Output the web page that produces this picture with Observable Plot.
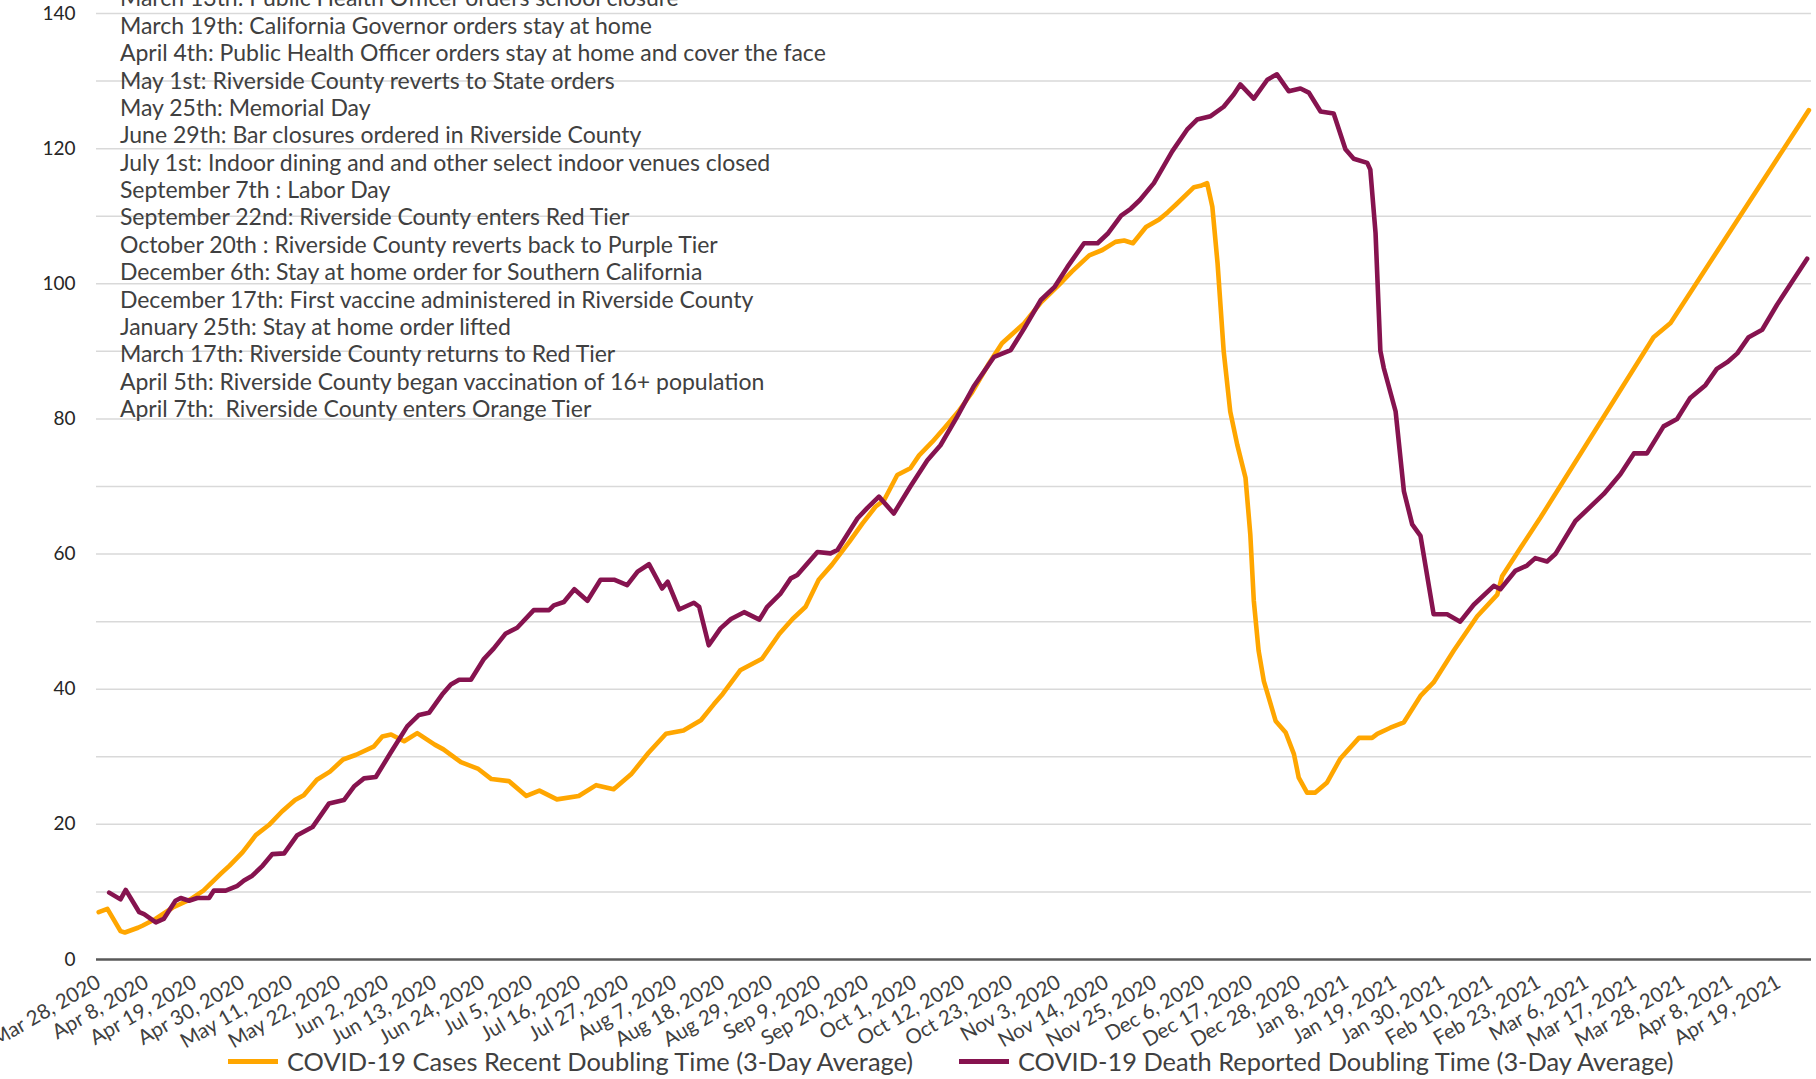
<!DOCTYPE html>
<html>
<head>
<meta charset="utf-8">
<script src="https://cdn.jsdelivr.net/npm/d3@7"></script>
<script src="https://cdn.jsdelivr.net/npm/@observablehq/plot@0.6"></script>
<style>
  html, body { margin: 0; padding: 0; background: #fff; }
  #chart { position: relative; width: 1816px; height: 1079px; overflow: hidden; }
  #chart svg { position: absolute; left: 0; top: 0; }
  #legend { position: absolute; left: 0; top: 1041px; width: 1816px; height: 40px;
            font-family: Lato, "Open Sans", sans-serif; font-size: 25.4px; color: #404040; }
  .item { position: absolute; top: 0; height: 40px; display: flex; align-items: center; white-space: nowrap; }
  .sw { width: 50px; height: 5px; margin-right: 9px; }
</style>
</head>
<body>
<div id="chart"><div id="legend"></div></div>
<script>
// ---------- data ----------
const seriesNames = [
  "COVID-19 Cases Recent Doubling Time (3-Day Average)",
  "COVID-19 Death Reported Doubling Time (3-Day Average)"
];
const seriesColors = ["#FFA600", "#86134F"];

// category labels shown on the x axis (every 11th reporting day)
const tickLabels = [
  "Mar 28, 2020", "Apr 8, 2020", "Apr 19, 2020", "Apr 30, 2020", "May 11, 2020", "May 22, 2020",
  "Jun 2, 2020", "Jun 13, 2020", "Jun 24, 2020", "Jul 5, 2020", "Jul 16, 2020", "Jul 27, 2020",
  "Aug 7, 2020", "Aug 18, 2020", "Aug 29, 2020", "Sep 9, 2020", "Sep 20, 2020", "Oct 1, 2020",
  "Oct 12, 2020", "Oct 23, 2020", "Nov 3, 2020", "Nov 14, 2020", "Nov 25, 2020", "Dec 6, 2020",
  "Dec 17, 2020", "Dec 28, 2020", "Jan 8, 2021", "Jan 19, 2021", "Jan 30, 2021", "Feb 10, 2021",
  "Feb 23, 2021", "Mar 6, 2021", "Mar 17, 2021", "Mar 28, 2021", "Apr 8, 2021", "Apr 19, 2021"
];
const tickStep = 11;          // reporting days between labels
const dayCount = 393;         // reporting days in the series
const yTicks = [0, 20, 40, 60, 80, 100, 120, 140];
const yGrid = [10, 20, 30, 40, 50, 60, 70, 80, 90, 100, 110, 120, 130, 140];

// reporting-day index (0 = Mar 28, 2020) and value
const casesDay = [0, 2, 5, 6, 9, 10, 13, 17, 21, 24, 28, 30, 33, 36, 39, 42, 45, 47, 50, 53, 56, 59, 63, 65, 67, 70, 73, 77, 79, 83, 87, 90, 94, 98, 101, 105, 110, 114, 118, 122, 126, 130, 134, 138, 141, 143, 147, 152, 156, 159, 162, 165, 168, 172, 175, 178, 180, 183, 186, 188, 191, 194, 197, 200, 204, 207, 212, 216, 220, 223, 227, 230, 233, 235, 237, 240, 243, 245, 247, 251, 252.5, 254, 255.2, 256.4, 257.8, 259.3, 260.9, 262.8, 263.9, 264.7, 265.8, 267.0, 269.7, 272.0, 273.9, 275.0, 276.9, 278.8, 281.5, 284.5, 288.8, 291.8, 293.0, 296.0, 299.1, 302.9, 305.9, 310.5, 315.9, 320.5, 321.6, 325.8, 330.4, 356.3, 360.2, 391.9];
const casesValue = [7.0, 7.5, 4.2, 4.0, 4.7, 5.0, 6.0, 7.7, 8.9, 10.2, 12.7, 13.9, 15.9, 18.4, 19.9, 21.9, 23.6, 24.3, 26.6, 27.8, 29.6, 30.3, 31.5, 33.0, 33.3, 32.3, 33.5, 31.8, 31.1, 29.2, 28.2, 26.7, 26.4, 24.2, 25.0, 23.7, 24.2, 25.8, 25.2, 27.4, 30.6, 33.4, 33.9, 35.4, 37.8, 39.3, 42.8, 44.5, 48.2, 50.4, 52.2, 56.2, 58.4, 61.8, 64.5, 67.0, 68.0, 71.7, 72.7, 74.6, 76.6, 78.8, 81.1, 83.8, 88.2, 91.2, 94.1, 97.3, 99.8, 101.8, 104.2, 105.0, 106.2, 106.4, 106.0, 108.4, 109.5, 110.6, 111.8, 114.3, 114.5, 114.9, 111.4, 103.0, 90.0, 81.1, 76.2, 71.3, 62.9, 53.1, 45.7, 41.2, 35.3, 33.6, 30.4, 26.9, 24.7, 24.7, 26.2, 29.7, 32.8, 32.8, 33.4, 34.3, 35.1, 39.0, 41.0, 45.7, 50.8, 54.0, 56.7, 60.9, 65.4, 92.1, 94.2, 125.7];

const deathsDay = [2.4, 5.0, 6.2, 9.3, 10.4, 13.1, 14.9, 17.6, 18.8, 20.7, 22.6, 25.3, 26.4, 29.1, 31.8, 33.3, 35.2, 37.6, 39.8, 42.5, 45.5, 49.0, 52.8, 56.2, 58.5, 60.8, 63.5, 66.9, 70.7, 73.4, 75.7, 78.7, 80.7, 82.6, 85.3, 88.3, 90.5, 93.2, 95.9, 99.7, 103.2, 104.3, 106.6, 109.0, 112.0, 115.0, 118.1, 121.1, 123.5, 126.1, 129.1, 130.4, 133.0, 136.4, 137.6, 139.8, 142.5, 144.9, 147.9, 151.4, 153.2, 156.3, 158.6, 160.1, 164.7, 167.7, 169.3, 173.9, 176.1, 178.8, 182.2, 186.0, 189.9, 192.9, 196.7, 200.5, 205.2, 209.0, 212.1, 215.9, 219.0, 222.0, 225.8, 228.9, 231.2, 234.3, 236.5, 238.6, 241.8, 246.0, 249.4, 251.7, 254.8, 257.8, 260.1, 261.6, 264.7, 267.8, 270.0, 272.7, 275.4, 277.3, 280.0, 283.0, 285.7, 287.6, 290.7, 291.4, 292.6, 293.7, 294.5, 297.2, 299.1, 301.0, 302.9, 305.9, 309.0, 312.0, 315.1, 319.7, 321.2, 324.6, 327.3, 329.2, 331.9, 333.8, 338.4, 344.9, 348.7, 351.8, 354.8, 358.6, 361.7, 364.7, 368.2, 370.8, 373.2, 375.5, 378.1, 381.2, 384.6, 391.5];
const deathsValue = [9.9, 8.9, 10.3, 7.0, 6.7, 5.5, 6.0, 8.7, 9.1, 8.7, 9.1, 9.1, 10.2, 10.2, 10.9, 11.7, 12.4, 13.9, 15.6, 15.7, 18.4, 19.6, 23.1, 23.6, 25.6, 26.8, 27.0, 30.6, 34.5, 36.2, 36.5, 39.2, 40.7, 41.4, 41.4, 44.5, 46.0, 48.2, 49.1, 51.7, 51.7, 52.4, 52.9, 54.8, 53.1, 56.2, 56.2, 55.4, 57.4, 58.5, 54.9, 55.9, 51.8, 52.8, 52.2, 46.5, 49.0, 50.4, 51.4, 50.3, 52.2, 54.2, 56.4, 56.9, 60.3, 60.1, 60.6, 65.3, 66.8, 68.5, 66.0, 70.0, 73.9, 76.1, 80.3, 84.8, 89.2, 90.2, 93.4, 97.6, 99.5, 102.5, 106.0, 106.0, 107.4, 110.1, 111.1, 112.4, 114.9, 119.6, 122.8, 124.3, 124.8, 126.2, 128.0, 129.5, 127.4, 130.2, 131.0, 128.5, 128.9, 128.3, 125.5, 125.2, 119.9, 118.5, 117.9, 116.9, 107.5, 90.1, 87.5, 81.1, 69.3, 64.4, 62.7, 51.1, 51.1, 50.0, 52.5, 55.3, 54.8, 57.5, 58.3, 59.4, 58.9, 60.0, 64.9, 68.9, 71.8, 74.9, 74.9, 78.9, 80.0, 83.1, 85.0, 87.4, 88.4, 89.7, 92.1, 93.2, 96.9, 103.7];

const annotations = [
  "March 13th: Public Health Officer orders school closure",
  "March 19th: California Governor orders stay at home",
  "April 4th: Public Health Officer orders stay at home and cover the face",
  "May 1st: Riverside County reverts to State orders",
  "May 25th: Memorial Day",
  "June 29th: Bar closures ordered in Riverside County",
  "July 1st: Indoor dining and and other select indoor venues closed",
  "September 7th : Labor Day",
  "September 22nd: Riverside County enters Red Tier",
  "October 20th : Riverside County reverts back to Purple Tier",
  "December 6th: Stay at home order for Southern California",
  "December 17th: First vaccine administered in Riverside County",
  "January 25th: Stay at home order lifted",
  "March 17th: Riverside County returns to Red Tier",
  "April 5th: Riverside County began vaccination of 16+ population",
  "April 7th:  Riverside County enters Orange Tier"
];

// ---------- build ----------
const cases = casesDay.map((d, i) => ({day: d, value: casesValue[i]}));
const deaths = deathsDay.map((d, i) => ({day: d, value: deathsValue[i]}));
const tickDays = tickLabels.map((_, k) => k * tickStep);

const plot = Plot.plot({
  width: 1816,
  height: 1079,
  marginLeft: 96,
  marginRight: 5,
  marginTop: 13,
  marginBottom: 120,
  style: {fontFamily: "Lato, 'Open Sans', sans-serif", background: "white", color: "#404040"},
  x: {domain: [-0.5, dayCount - 0.5]},
  y: {domain: [0, 140]},
  marks: [
    Plot.gridY(yGrid, {stroke: "#d9d9d9", strokeOpacity: 1, strokeWidth: 1.5}),
    Plot.axisY(yTicks, {tickSize: 0, tickPadding: 21, fontSize: 19, fill: "#262626", label: null}),
    Plot.axisX(tickDays, {
      tickSize: 0, tickPadding: 21, tickRotate: -30, fontSize: 20.5, fill: "#404040", label: null,
      tickFormat: d => tickLabels[Math.round(d / tickStep)]
    }),
    Plot.ruleY([0], {stroke: "#595959", strokeWidth: 2.5}),
    Plot.text([annotations.join("\n")], {
      frameAnchor: "top-left", textAnchor: "start", lineAnchor: "top",
      dx: 23.4, dy: -26.6, fontSize: 23, lineHeight: 1.191, fill: "#404040"
    }),
    Plot.line(cases, {x: "day", y: "value", stroke: seriesColors[0], strokeWidth: 4.6}),
    Plot.line(deaths, {x: "day", y: "value", stroke: seriesColors[1], strokeWidth: 4.6})
  ]
});
document.getElementById("chart").insertBefore(plot, document.getElementById("legend"));

// legend
const legend = document.getElementById("legend");
const legendLeft = [228, 959];
seriesNames.forEach((name, i) => {
  const item = document.createElement("div");
  item.className = "item";
  item.style.left = legendLeft[i] + "px";
  const sw = document.createElement("span");
  sw.className = "sw";
  sw.style.background = seriesColors[i];
  const label = document.createElement("span");
  label.textContent = name;
  item.appendChild(sw);
  item.appendChild(label);
  legend.appendChild(item);
});
</script>
</body>
</html>
